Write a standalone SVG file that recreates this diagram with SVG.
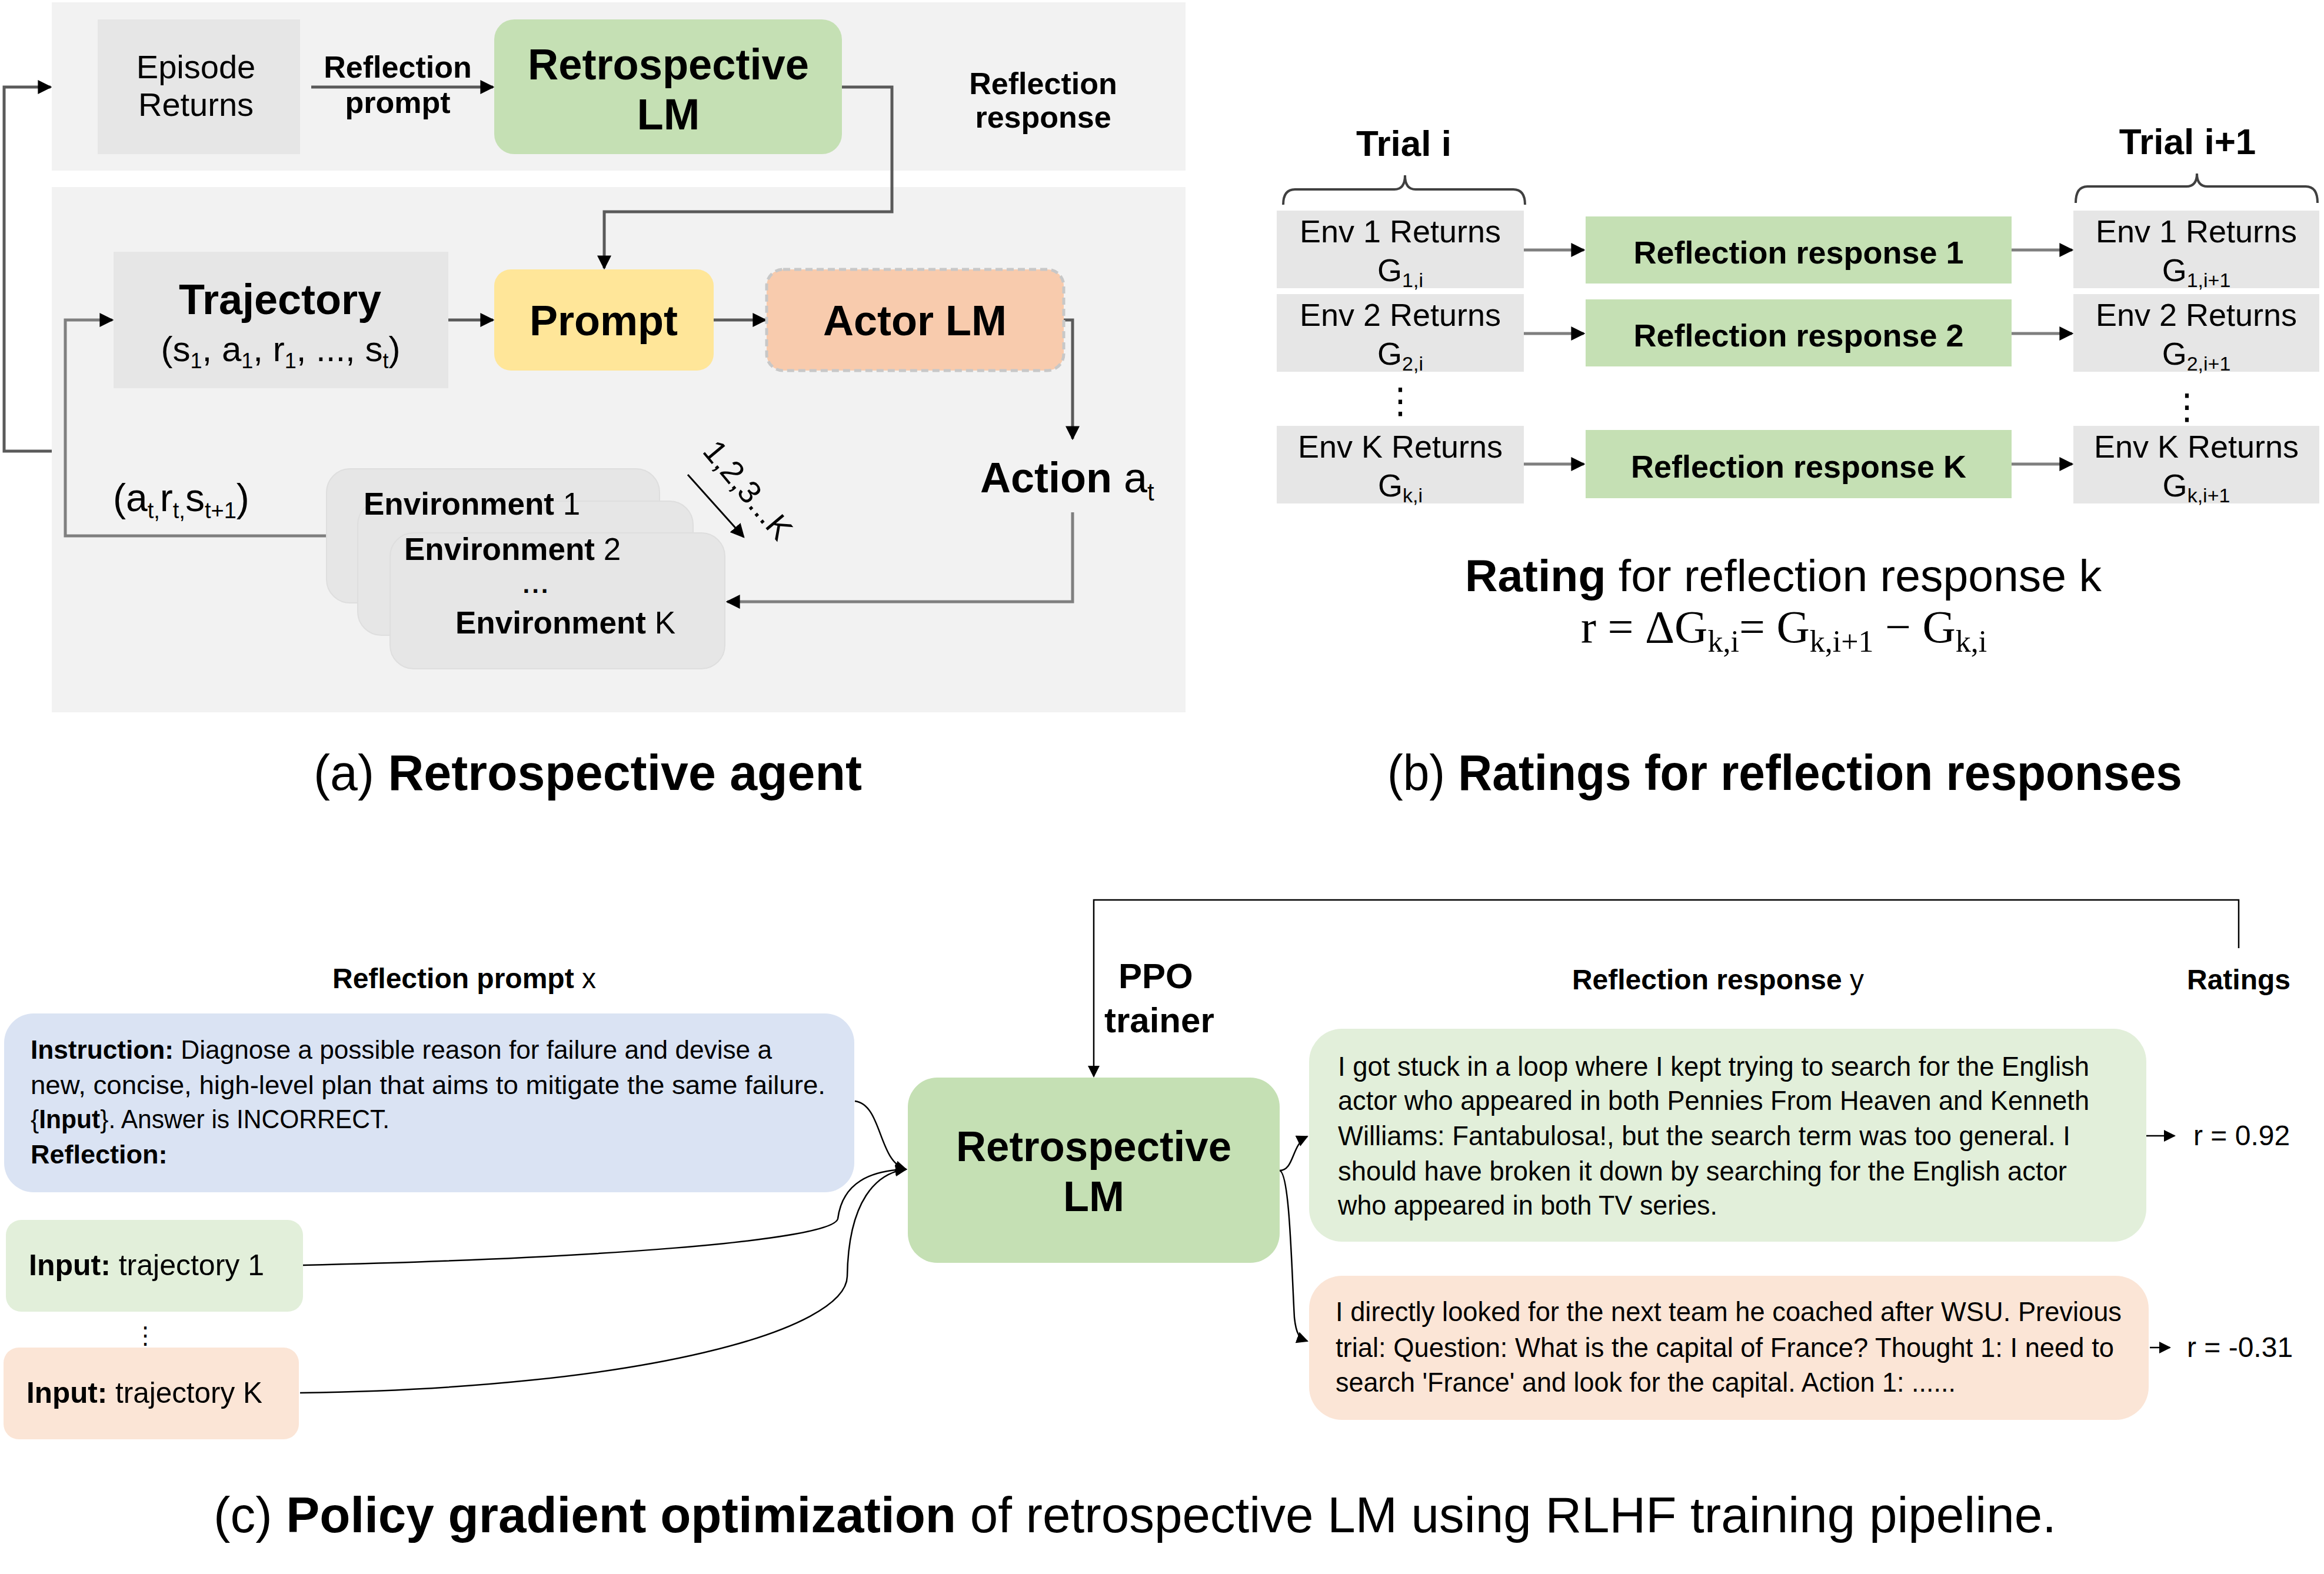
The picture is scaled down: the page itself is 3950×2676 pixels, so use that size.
<svg xmlns="http://www.w3.org/2000/svg" width="3950" height="2676" viewBox="0 0 3950 2676">
<defs>
<style>
text{font-family:"Liberation Sans",Arial,sans-serif;fill:#000}
.b{font-weight:700}
.m{text-anchor:middle}
.dots{font-family:"DejaVu Sans",sans-serif}
.la{fill:none;stroke:#5a5a5a;stroke-width:5}
.lb{fill:none;stroke:#7f7f7f;stroke-width:5}
.lc{fill:none;stroke:#000;stroke-width:2.5}
.gray{fill:#e6e6e6}
.green{fill:#c5e0b4}
.env{fill:#e6e6e6;stroke:#dedede;stroke-width:2}
</style>
<marker id="ah" viewBox="0 0 10 10" refX="9" refY="5" markerWidth="24" markerHeight="24" markerUnits="userSpaceOnUse" orient="auto"><path d="M0,0L10,5L0,10z" fill="#000"/></marker>
<marker id="ac" viewBox="0 0 10 10" refX="9" refY="5" markerWidth="20" markerHeight="20" markerUnits="userSpaceOnUse" orient="auto"><path d="M0,0L10,5L0,10z" fill="#000"/></marker>
</defs>
<rect width="3950" height="2676" fill="#fff"/>

<!-- panel (a) backgrounds -->
<rect x="88" y="4" width="1927" height="286" fill="#f2f2f2"/>
<rect x="88" y="318" width="1927" height="893" fill="#f2f2f2"/>

<g id="connectors">
  <!-- panel a -->
  <path class="la" d="M529,148 L838,148" marker-end="url(#ah)"/>
  <path class="la" d="M1431,148 L1516,148 L1516,360 L1027,360 L1027,456" marker-end="url(#ah)"/>
  <path class="la" d="M762,544 L838,544" marker-end="url(#ah)"/>
  <path class="la" d="M1213,544 L1301,544" marker-end="url(#ah)"/>
  <path class="la" d="M1808,544 L1823,544 L1823,746" marker-end="url(#ah)"/>
  <path class="lb" d="M1823,871 L1823,1023 L1236,1023" marker-end="url(#ah)"/>
  <path class="lb" d="M555,911 L111,911 L111,544 L191,544" marker-end="url(#ah)"/>
  <path class="la" d="M88,767 L7,767 L7,148 L86,148" marker-end="url(#ah)"/>
  <path fill="none" stroke="#000" stroke-width="3" d="M1169,807 L1264,913" marker-end="url(#ah)"/>
  <!-- panel b -->
  <path class="lb" d="M2590,425 L2692,425" marker-end="url(#ah)"/>
  <path class="lb" d="M2590,567 L2692,567" marker-end="url(#ah)"/>
  <path class="lb" d="M2590,789 L2692,789" marker-end="url(#ah)"/>
  <path class="lb" d="M3419,425 L3522,425" marker-end="url(#ah)"/>
  <path class="lb" d="M3419,567 L3522,567" marker-end="url(#ah)"/>
  <path class="lb" d="M3419,789 L3522,789" marker-end="url(#ah)"/>
  <path fill="none" stroke="#404040" stroke-width="4" d="M2181,348 Q2181,322 2201,322 L2370,322 Q2388,322 2388,298 Q2388,322 2406,322 L2572,322 Q2592,322 2592,348"/>
  <path fill="none" stroke="#404040" stroke-width="4" d="M3528,345 Q3528,317 3548,317 L3716,317 Q3734,317 3734,295 Q3734,317 3752,317 L3919,317 Q3939,317 3939,345"/>
  <!-- panel c -->
  <path class="lc" d="M3805,1612 L3805,1530 L1859,1530 L1859,1830" marker-end="url(#ac)"/>
  <path class="lc" d="M1453,1872 C1500,1878 1492,1975 1540,1988" marker-end="url(#ac)"/>
  <path class="lc" d="M515,2151 C1000,2140 1415,2110 1424,2072 C1432,2010 1480,1990 1540,1988" marker-end="url(#ac)"/>
  <path class="lc" d="M510,2368 C1100,2360 1438,2260 1440,2170 C1442,2040 1490,1994 1540,1988" marker-end="url(#ac)"/>
  <path class="lc" d="M2175,1990 C2200,1990 2195,1945 2222,1932" marker-end="url(#ac)"/>
  <path class="lc" d="M2175,1990 C2192,1995 2195,2150 2200,2240 C2203,2268 2208,2275 2222,2280" marker-end="url(#ac)"/>
  <path class="lc" d="M3648,1931 L3696,1931" marker-end="url(#ac)"/>
  <path class="lc" d="M3654,2291 L3688,2291" marker-end="url(#ac)"/>
</g>

<!-- ===== panel (a) nodes ===== -->
<g id="episode-returns">
  <rect class="gray" x="166" y="33" width="344" height="229"/>
  <text class="m" x="333" y="133" font-size="56" fill="#262626">Episode</text>
  <text class="m" x="333" y="197" font-size="56" fill="#262626">Returns</text>
</g>
<g id="label-reflection-prompt">
  <text class="b m" x="676" y="132" font-size="52">Reflection</text>
  <text class="b m" x="676" y="192" font-size="52">prompt</text>
</g>
<g id="retrospective-lm-a">
  <rect class="green" x="840" y="33" width="591" height="229" rx="34"/>
  <text class="b m" x="1136" y="135" font-size="74" textLength="478" lengthAdjust="spacingAndGlyphs">Retrospective</text>
  <text class="b m" x="1136" y="220" font-size="74">LM</text>
</g>
<g id="label-reflection-response">
  <text class="b m" x="1773" y="160" font-size="52">Reflection</text>
  <text class="b m" x="1773" y="217" font-size="52">response</text>
</g>
<g id="trajectory">
  <rect class="gray" x="193" y="428" width="569" height="232"/>
  <text class="b m" x="476" y="534" font-size="72">Trajectory</text>
  <text class="m" x="477" y="614" font-size="60" fill="#262626">(s<tspan font-size="36" dy="12">1</tspan><tspan dy="-12">, a</tspan><tspan font-size="36" dy="12">1</tspan><tspan dy="-12">, r</tspan><tspan font-size="36" dy="12">1</tspan><tspan dy="-12">, ..., s</tspan><tspan font-size="36" dy="12">t</tspan><tspan dy="-12">)</tspan></text>
</g>
<g id="prompt">
  <rect x="840" y="458" width="373" height="172" rx="28" fill="#ffe699"/>
  <text class="b m" x="1026" y="570" font-size="72">Prompt</text>
</g>
<g id="actor-lm">
  <rect x="1303" y="458" width="505" height="172" rx="28" fill="#f8cbad" stroke="#c8c8c8" stroke-width="5" stroke-dasharray="12 7"/>
  <text class="b m" x="1555" y="570" font-size="72">Actor LM</text>
</g>
<g id="action">
  <text x="1666" y="837" font-size="72"><tspan class="b">Action </tspan><tspan>a</tspan><tspan font-size="42" dy="14">t</tspan></text>
</g>
<g id="environments">
  <rect class="env" x="555" y="797" width="566" height="228" rx="40"/>
  <rect class="env" x="608" y="852" width="570" height="228" rx="40"/>
  <rect class="env" x="663" y="906" width="569" height="231" rx="40"/>
  <text x="618" y="875" font-size="53"><tspan class="b">Environment</tspan> 1</text>
  <text x="687" y="952" font-size="53"><tspan class="b">Environment</tspan> 2</text>
  <text class="m b" x="912" y="1008" font-size="42" letter-spacing="4">...</text>
  <text x="774" y="1077" font-size="53"><tspan class="b">Environment</tspan> K</text>
</g>
<g id="label-transition">
  <text x="192" y="869" font-size="66">(a<tspan font-size="38" dy="12">t,</tspan><tspan dy="-12">r</tspan><tspan font-size="38" dy="12">t,</tspan><tspan dy="-12">s</tspan><tspan font-size="38" dy="12">t+1</tspan><tspan dy="-12">)</tspan></text>
</g>
<g id="label-envs">
  <text class="m" x="1257" y="845" font-size="54" transform="rotate(50 1257 845)">1,2,3...K</text>
</g>
<g id="caption-a">
  <text x="533" y="1343" font-size="85" textLength="932" lengthAdjust="spacingAndGlyphs">(a) <tspan class="b">Retrospective agent</tspan></text>
</g>

<!-- ===== panel (b) ===== -->
<g id="trial-i">
  <text class="b m" x="2386" y="265" font-size="62">Trial i</text>
</g>
<g id="trial-i1">
  <text class="b m" x="3718" y="262" font-size="62">Trial i+1</text>
</g>
<g id="env1-i">
  <rect class="gray" x="2170" y="358" width="420" height="132"/>
  <text class="m" x="2380" y="412" font-size="54" fill="#262626">Env 1 Returns</text>
  <text class="m" x="2380" y="478" font-size="54" fill="#262626">G<tspan font-size="34" dy="10">1,i</tspan></text>
</g>
<g id="env2-i">
  <rect class="gray" x="2170" y="500" width="420" height="132"/>
  <text class="m" x="2380" y="554" font-size="54" fill="#262626">Env 2 Returns</text>
  <text class="m" x="2380" y="620" font-size="54" fill="#262626">G<tspan font-size="34" dy="10">2,i</tspan></text>
</g>
<g id="envk-i">
  <rect class="gray" x="2170" y="724" width="420" height="132"/>
  <text class="m" x="2380" y="778" font-size="54" fill="#262626">Env K Returns</text>
  <text class="m" x="2380" y="844" font-size="54" fill="#262626">G<tspan font-size="34" dy="10">k,i</tspan></text>
</g>
<text class="m dots" x="2380" y="702" font-size="60">⋮</text>
<g id="refl1">
  <rect class="green" x="2695" y="368" width="724" height="114"/>
  <text class="b m" x="3057" y="448" font-size="54">Reflection response 1</text>
</g>
<g id="refl2">
  <rect class="green" x="2695" y="509" width="724" height="114"/>
  <text class="b m" x="3057" y="589" font-size="54">Reflection response 2</text>
</g>
<g id="reflk">
  <rect class="green" x="2695" y="731" width="724" height="116"/>
  <text class="b m" x="3057" y="812" font-size="54">Reflection response K</text>
</g>
<g id="env1-i1">
  <rect class="gray" x="3524" y="358" width="418" height="132"/>
  <text class="m" x="3733" y="412" font-size="54" fill="#262626">Env 1 Returns</text>
  <text class="m" x="3733" y="478" font-size="54" fill="#262626">G<tspan font-size="34" dy="10">1,i+1</tspan></text>
</g>
<g id="env2-i1">
  <rect class="gray" x="3524" y="500" width="418" height="132"/>
  <text class="m" x="3733" y="554" font-size="54" fill="#262626">Env 2 Returns</text>
  <text class="m" x="3733" y="620" font-size="54" fill="#262626">G<tspan font-size="34" dy="10">2,i+1</tspan></text>
</g>
<g id="envk-i1">
  <rect class="gray" x="3524" y="724" width="418" height="132"/>
  <text class="m" x="3733" y="778" font-size="54" fill="#262626">Env K Returns</text>
  <text class="m" x="3733" y="844" font-size="54" fill="#262626">G<tspan font-size="34" dy="10">k,i+1</tspan></text>
</g>
<text class="m dots" x="3717" y="712" font-size="60">⋮</text>
<g id="rating-formula">
  <text x="2490" y="1005" font-size="76" textLength="1082" lengthAdjust="spacingAndGlyphs"><tspan class="b">Rating</tspan> for reflection response k</text>
  <text x="2687" y="1092" font-size="78" style="font-family:'Liberation Serif','Times New Roman',serif">r = ΔG<tspan font-size="52" dy="16">k,i</tspan><tspan dy="-16">= G</tspan><tspan font-size="52" dy="16">k,i+1</tspan><tspan dy="-16"> − G</tspan><tspan font-size="52" dy="16">k,i</tspan></text>
</g>
<g id="caption-b">
  <text x="2358" y="1343" font-size="85" textLength="1351" lengthAdjust="spacingAndGlyphs">(b) <tspan class="b">Ratings for reflection responses</tspan></text>
</g>

<!-- ===== panel (c) ===== -->
<g id="header-prompt">
  <text class="m" x="789" y="1680" font-size="48"><tspan class="b">Reflection prompt</tspan> x</text>
</g>
<g id="header-response">
  <text class="m" x="2920" y="1682" font-size="48"><tspan class="b">Reflection response</tspan> y</text>
</g>
<g id="header-ratings">
  <text class="b m" x="3805" y="1682" font-size="48">Ratings</text>
</g>
<g id="ppo-trainer">
  <text class="b" x="1901" y="1680" font-size="60">PPO</text>
  <text class="b" x="1877" y="1755" font-size="60">trainer</text>
</g>
<g id="reflection-prompt">
  <rect x="7" y="1723" width="1445" height="304" rx="50" fill="#dae3f3"/>
  <text x="52" y="1800" font-size="45" textLength="1260" lengthAdjust="spacingAndGlyphs"><tspan class="b">Instruction:</tspan> Diagnose a possible reason for failure and devise a</text>
  <text x="52" y="1860" font-size="45" textLength="1351" lengthAdjust="spacingAndGlyphs">new, concise, high-level plan that aims to mitigate the same failure.</text>
  <text x="52" y="1918" font-size="45" textLength="610" lengthAdjust="spacingAndGlyphs">{<tspan class="b">Input</tspan>}. Answer is INCORRECT.</text>
  <text class="b" x="52" y="1978" font-size="45">Reflection:</text>
</g>
<g id="input-traj-1">
  <rect x="10" y="2074" width="505" height="156" rx="26" fill="#e2efda"/>
  <text x="49" y="2168" font-size="50" textLength="400" lengthAdjust="spacingAndGlyphs"><tspan class="b">Input:</tspan> trajectory 1</text>
</g>
<text class="m dots" x="247" y="2284" font-size="40">⋮</text>
<g id="input-traj-k">
  <rect x="6" y="2291" width="502" height="156" rx="26" fill="#fbe5d6"/>
  <text x="45" y="2385" font-size="50" textLength="401" lengthAdjust="spacingAndGlyphs"><tspan class="b">Input:</tspan> trajectory K</text>
</g>
<g id="retrospective-lm-c">
  <rect class="green" x="1543" y="1832" width="632" height="315" rx="50"/>
  <text class="b m" x="1859" y="1974" font-size="72" textLength="468" lengthAdjust="spacingAndGlyphs">Retrospective</text>
  <text class="b m" x="1859" y="2059" font-size="72">LM</text>
</g>
<g id="response-good">
  <rect x="2225" y="1749" width="1423" height="362" rx="56" fill="#e2efda"/>
  <text x="2274" y="1829" font-size="46" textLength="1277" lengthAdjust="spacingAndGlyphs">I got stuck in a loop where I kept trying to search for the English</text>
  <text x="2274" y="1887" font-size="46" textLength="1277" lengthAdjust="spacingAndGlyphs">actor who appeared in both Pennies From Heaven and Kenneth</text>
  <text x="2274" y="1947" font-size="46" textLength="1245" lengthAdjust="spacingAndGlyphs">Williams: Fantabulosa!, but the search term was too general. I</text>
  <text x="2274" y="2007" font-size="46" textLength="1239" lengthAdjust="spacingAndGlyphs">should have broken it down by searching for the English actor</text>
  <text x="2274" y="2065" font-size="46" textLength="645" lengthAdjust="spacingAndGlyphs">who appeared in both TV series.</text>
</g>
<g id="response-bad">
  <rect x="2225" y="2169" width="1427" height="245" rx="56" fill="#fbe5d6"/>
  <text x="2270" y="2246" font-size="46" textLength="1336" lengthAdjust="spacingAndGlyphs">I directly looked for the next team he coached after WSU. Previous</text>
  <text x="2270" y="2307" font-size="46" textLength="1323" lengthAdjust="spacingAndGlyphs">trial: Question: What is the capital of France? Thought 1: I need to</text>
  <text x="2270" y="2366" font-size="46" textLength="1054" lengthAdjust="spacingAndGlyphs">search 'France' and look for the capital. Action 1: ......</text>
</g>
<g id="rating-good">
  <text x="3728" y="1947" font-size="48">r = 0.92</text>
</g>
<g id="rating-bad">
  <text x="3717" y="2307" font-size="48">r = -0.31</text>
</g>
<g id="caption-c">
  <text x="363" y="2605" font-size="85" textLength="3132" lengthAdjust="spacingAndGlyphs">(c) <tspan class="b">Policy gradient optimization</tspan> of retrospective LM using RLHF training pipeline.</text>
</g>
</svg>
